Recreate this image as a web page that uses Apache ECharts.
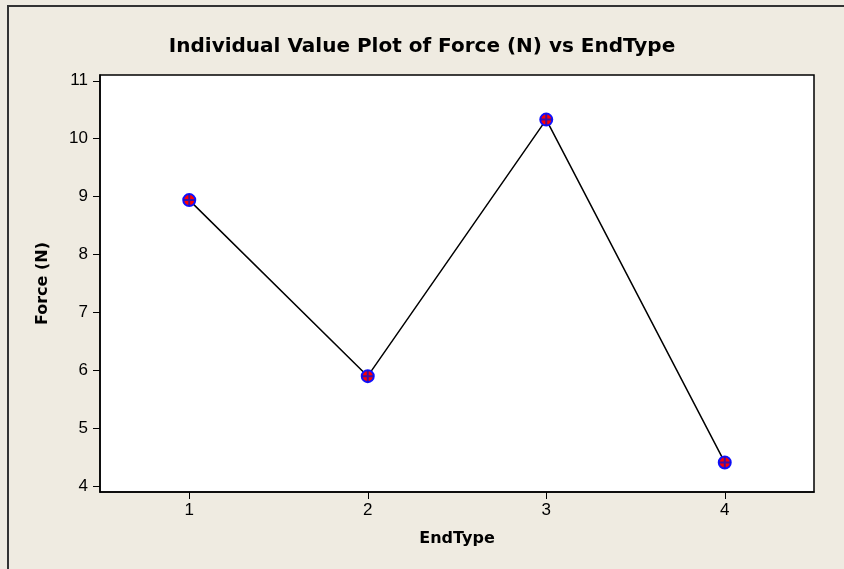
<!DOCTYPE html>
<html>
<head>
<meta charset="utf-8">
<script src="https://cdn.jsdelivr.net/npm/echarts@6/dist/echarts.min.js"></script>
<style>
  html, body { margin: 0; padding: 0; background: #efebe1; }
  #main { width: 844px; height: 569px; }
</style>
</head>
<body>
<div id="main"></div>
<script>
// data
const endTypes = [1, 2, 3, 4];
const force = [8.94, 5.9, 10.33, 4.41];
const yTicks = [4, 5, 6, 7, 8, 9, 10, 11];

const points = endTypes.map((x, i) => [x, force[i]]);
const font = "DejaVu Sans";
const tickFont = "Liberation Sans";

let myChart = echarts.init(document.getElementById("main"));
let option = {
  backgroundColor: "#efebe1",
  animation: false,
  title: {
    text: "Individual Value Plot of Force (N) vs EndType",
    left: "center",
    top: 32,
    textStyle: { fontFamily: font, fontSize: 20, fontWeight: "bold", color: "#000" }
  },
  graphic: [
    {
      type: "rect",
      shape: { x: 8, y: 6, width: 900, height: 700 },
      style: { fill: null, stroke: "#333", lineWidth: 2 },
      silent: true
    }
  ],
  grid: {
    left: 100, right: 30, top: 75, bottom: 77,
    show: true,
    backgroundColor: "#fff",
    borderColor: "#000",
    borderWidth: 1.5
  },
  xAxis: {
    type: "value",
    min: 0.5,
    max: 4.5,
    name: "EndType",
    nameLocation: "middle",
    nameGap: 39,
    nameTextStyle: { fontFamily: font, fontSize: 16, fontWeight: "bold", color: "#000" },
    axisLine: { show: true, onZero: false, lineStyle: { color: "#000", width: 1.5 } },
    axisTick: { show: true, length: 7, customValues: endTypes, lineStyle: { color: "#000" } },
    axisLabel: { customValues: endTypes, fontFamily: tickFont, fontSize: 17, color: "#000", margin: 10 },
    splitLine: { show: false }
  },
  yAxis: {
    type: "value",
    min: 3.9,
    max: 11.1,
    name: "Force (N)",
    nameLocation: "middle",
    nameGap: 49,
    nameTextStyle: { fontFamily: font, fontSize: 16, fontWeight: "bold", color: "#000" },
    axisLine: { show: true, onZero: false, lineStyle: { color: "#000", width: 1.5 } },
    axisTick: { show: true, length: 7, customValues: yTicks, lineStyle: { color: "#000" } },
    axisLabel: { customValues: yTicks, fontFamily: tickFont, fontSize: 17, color: "#000", margin: 12 },
    splitLine: { show: false }
  },
  series: [
    {
      type: "line",
      data: points,
      symbol: "circle",
      symbolSize: 12,
      lineStyle: { color: "#000", width: 1.5 },
      itemStyle: { color: "#f00", borderColor: "#1010ff", borderWidth: 2 },
      z: 2
    },
    {
      type: "scatter",
      data: points,
      symbol: "path://M5,0 L7,0 L7,5 L12,5 L12,7 L7,7 L7,12 L5,12 L5,7 L0,7 L0,5 L5,5 Z",
      symbolSize: 12,
      itemStyle: { color: "#1010cc" },
      z: 3
    }
  ]
};
myChart.setOption(option);
</script>
</body>
</html>
